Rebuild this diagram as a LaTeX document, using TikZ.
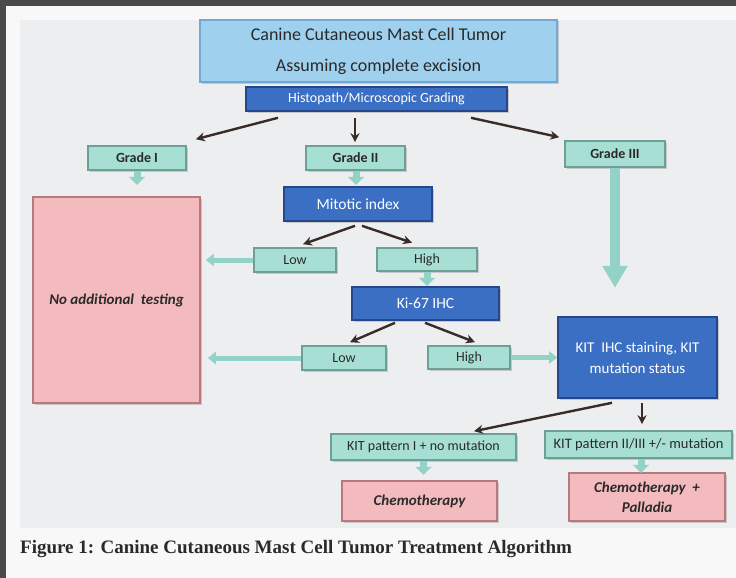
\documentclass[tikz,border=0pt]{standalone}
\usepackage{fontspec}
\setmainfont{Carlito}
\newfontfamily\capfont{Liberation Serif}
\usetikzlibrary{arrows.meta,shadows}
\definecolor{frameg}{HTML}{4A4A4A}
\definecolor{panel}{HTML}{EDEEEF}
\definecolor{outer}{HTML}{F8F8F8}
\definecolor{ltblue}{HTML}{9FD1EE}
\definecolor{ltblueb}{HTML}{6FA9D4}
\definecolor{dkblue}{HTML}{3B6FC4}
\definecolor{dkblueb}{HTML}{26478C}
\definecolor{tealf}{HTML}{A8DFD4}
\definecolor{tealb}{HTML}{6E9F96}
\definecolor{tealarrow}{HTML}{93D2C6}
\definecolor{pinkf}{HTML}{F3BBBE}
\definecolor{pinkb}{HTML}{B8787C}
\definecolor{arrowc}{HTML}{3A2B29}
\definecolor{txt}{HTML}{2A2A2A}
\tikzset{
  x=1pt,y=-1pt,
  bx/.style={draw, line width=1.6pt, inner sep=0pt, align=center,
    drop shadow={shadow xshift=1.5pt,shadow yshift=-1.5pt,opacity=0.35}},
  topbox/.style={bx, fill=ltblue, draw=ltblueb, text=txt, font=\fontsize{18}{31}\selectfont},
  darkbox/.style={bx, fill=dkblue, draw=dkblueb, text=white, font=\fontsize{15.5}{19}\selectfont},
  tealbox/.style={bx, fill=tealf, draw=tealb, text=txt, font=\fontsize{14.5}{16}\selectfont},
  gradebox/.style={tealbox, font=\fontsize{14}{16}\selectfont\bfseries},
  lhbox/.style={tealbox, font=\fontsize{14}{16}\selectfont},
  pinkbox/.style={bx, fill=pinkf, draw=pinkb, text=txt, font=\fontsize{15}{20}\selectfont\bfseries\itshape},
  thinarrow/.style={draw=arrowc, line width=2.4pt, -{Stealth[length=9pt,width=9pt]}},
  blkarrow/.style={draw=tealarrow, line width=7pt, -{Triangle[length=8pt,width=16pt]}},
  hblkarrow/.style={draw=tealarrow, line width=5pt, -{Triangle[length=8pt,width=12pt]}},
  bigarrow/.style={draw=tealarrow, line width=10pt, -{Triangle[length=22pt,width=24pt]}},
}
\begin{document}
\begin{tikzpicture}
\useasboundingbox (0,0) rectangle (736,578);
\fill[outer] (0,0) rectangle (736,578);
\fill[panel] (20,20) rectangle (736,528);
\fill[frameg] (0,0) rectangle (736,6);
\fill[frameg] (0,0) rectangle (6,578);

\node[topbox, minimum width=357pt, minimum height=62pt] (top) at (378.5,51) {Canine Cutaneous Mast Cell Tumor\\Assuming complete excision};
\node[darkbox, minimum width=261pt, minimum height=24pt, font=\fontsize{14}{16}\selectfont] (hist) at (376.5,99) {Histopath/Microscopic Grading};

\node[gradebox, minimum width=98pt, minimum height=24pt] (g1) at (137,158) {Grade I};
\node[gradebox, minimum width=99pt, minimum height=24pt] (g2) at (355.5,158) {Grade II};
\node[gradebox, minimum width=100pt, minimum height=26pt] (g3) at (615,154) {Grade III};

\node[pinkbox, minimum width=167pt, minimum height=206pt] (noadd) at (116.5,300) {No additional\ \ testing};

\node[darkbox, minimum width=148pt, minimum height=34pt] (mit) at (358,204) {Mitotic index};
\node[lhbox, minimum width=82pt, minimum height=24pt] (low1) at (295,260) {Low};
\node[lhbox, minimum width=100pt, minimum height=23pt] (high1) at (427,259.5) {High};
\node[darkbox, minimum width=147pt, minimum height=33pt] (ki) at (425.5,303.5) {Ki-67 IHC};
\node[lhbox, minimum width=84pt, minimum height=24pt] (low2) at (344,358) {Low};
\node[lhbox, minimum width=82pt, minimum height=23pt] (high2) at (469,357.5) {High};
\node[darkbox, minimum width=159pt, minimum height=81pt, font=\fontsize{15}{21}\selectfont] (kit) at (637.5,357.5) {KIT\ \ IHC staining, KIT\\mutation status};

\node[tealbox, minimum width=185pt, minimum height=26pt, font=\fontsize{14}{16}\selectfont] (kit1) at (423.5,447) {KIT pattern I + no mutation};
\node[tealbox, minimum width=187pt, minimum height=27pt] (kit2) at (638.5,444.5) {KIT pattern II/III +/- mutation};
\node[pinkbox, minimum width=155pt, minimum height=40pt] (chemo) at (419.5,501) {Chemotherapy};
\node[pinkbox, minimum width=156pt, minimum height=48pt] (chemop) at (647,497) {Chemotherapy\ \ +\\Palladia};

\node[anchor=base west, inner sep=0pt, text=txt, font=\capfont\fontsize{19}{22}\selectfont\bfseries] (cap) at (20,553) {Figure 1: Canine Cutaneous Mast Cell Tumor Treatment Algorithm};

% thin arrows
\draw[thinarrow] ([xshift=-98.5pt,yshift=-6pt]hist.south) -- ([xshift=9pt,yshift=6pt]g1.north east);
\draw[thinarrow] ([xshift=-21.5pt,yshift=-6pt]hist.south) -- ([xshift=-0.5pt,yshift=3pt]g2.north);
\draw[thinarrow] ([xshift=94.5pt,yshift=-6pt]hist.south) -- ([xshift=-5pt,yshift=3pt]g3.north west);
\draw[thinarrow] ([xshift=-3pt,yshift=-4pt]mit.south) -- ([xshift=8pt,yshift=3pt]low1.north);
\draw[thinarrow] ([xshift=4pt,yshift=-4pt]mit.south) -- ([xshift=-15pt,yshift=4.5pt]high1.north);
\draw[thinarrow] ([xshift=-30.5pt,yshift=-2pt]ki.south) -- ([xshift=6pt,yshift=3pt]low2.north);
\draw[thinarrow] ([xshift=-0.5pt,yshift=-2pt]ki.south) -- ([xshift=6pt,yshift=3pt]high2.north);
\draw[thinarrow] ([xshift=-25.5pt,yshift=-4pt]kit.south) -- ([xshift=50.5pt,yshift=2pt]kit1.north);
\draw[thinarrow] ([xshift=4.5pt,yshift=-4pt]kit.south) -- ([xshift=3.5pt,yshift=6pt]kit2.north);

% block arrows
\draw[blkarrow] (g1.south) -- ([yshift=-14pt]g1.south);
\draw[blkarrow] ([xshift=0.5pt]g2.south) -- ([xshift=0.5pt,yshift=-14pt]g2.south);
\draw[blkarrow] (high1.south) -- ([yshift=-14pt]high1.south);
\draw[blkarrow] (kit1.south) -- ([yshift=-14pt]kit1.south);
\draw[blkarrow] ([xshift=2.5pt]kit2.south) -- ([xshift=2.5pt,yshift=-14pt]kit2.south);
\draw[hblkarrow] (low1.west) -- ([xshift=5pt]noadd.east |- low1.west);
\draw[hblkarrow] (low2.west) -- ([xshift=7pt]noadd.east |- low2.west);
\draw[hblkarrow] (high2.east) -- (kit.west |- high2.east);
\draw[bigarrow] (g3.south) -- ([yshift=-120pt]g3.south);
\end{tikzpicture}
\end{document}
